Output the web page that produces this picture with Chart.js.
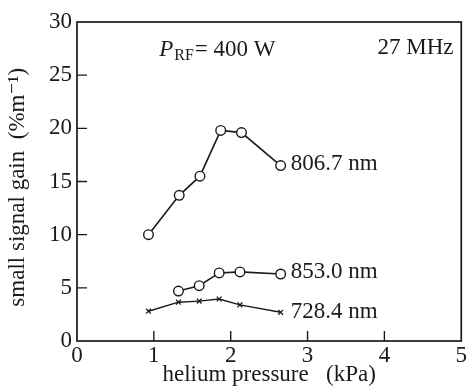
<!DOCTYPE html>
<html>
<head>
<meta charset="utf-8">
<script src="https://cdn.jsdelivr.net/npm/chart.js@4"></script>
<style>
  html, body { margin: 0; padding: 0; background: #fff; }
  #wrap { width: 468px; height: 389px; }
</style>
</head>
<body>
<div id="wrap"><canvas id="myChart" width="468" height="389"></canvas></div>
<script>
const ctx = document.querySelector("#myChart")

// values
const p8067 = [0.93, 1.33, 1.60, 1.87, 2.14, 2.65]
const g8067 = [10.0, 13.7, 15.5, 19.8, 19.6, 16.5]
const p8530 = [1.32, 1.59, 1.85, 2.12, 2.65]
const g8530 = [4.7, 5.2, 6.4, 6.5, 6.3]
const p7284 = [0.93, 1.32, 1.59, 1.85, 2.12, 2.65]
const g7284 = [2.8, 3.65, 3.75, 3.95, 3.4, 2.7]
const xTicks = [0, 1, 2, 3, 4, 5]
const yTicks = [0, 5, 10, 15, 20, 25, 30]
const seriesNames = ["806.7 nm", "853.0 nm", "728.4 nm"]

const serif = "'Liberation Serif', 'DejaVu Serif', serif"
const ink = '#1a1a1a'

const pts = (xs, ys) => xs.map((x, i) => ({x: x, y: ys[i]}))

const data = {
  datasets: [{
    label: seriesNames[0],
    data: pts(p8067, g8067),
    showLine: true,
    borderColor: ink,
    borderWidth: 1.6,
    pointStyle: 'circle',
    pointRadius: 4.8,
    pointBorderWidth: 1.4,
    pointBackgroundColor: '#fff',
    pointBorderColor: ink
  }, {
    label: seriesNames[1],
    data: pts(p8530, g8530),
    showLine: true,
    borderColor: ink,
    borderWidth: 1.6,
    pointStyle: 'circle',
    pointRadius: 4.8,
    pointBorderWidth: 1.4,
    pointBackgroundColor: '#fff',
    pointBorderColor: ink
  }, {
    label: seriesNames[2],
    data: pts(p7284, g7284),
    showLine: true,
    borderColor: ink,
    borderWidth: 1.4,
    pointStyle: 'crossRot',
    pointRadius: 3.4,
    pointBorderWidth: 1.3,
    pointBorderColor: ink
  }]
}

// box, inward ticks and text labels
const decor = {
  id: 'decor',
  afterDraw(chart) {
    const c = chart.ctx
    const a = chart.chartArea
    const xs = chart.scales.x, ys = chart.scales.y
    c.save()
    c.strokeStyle = ink
    c.lineWidth = 1.7
    c.strokeRect(a.left, a.top, a.right - a.left, a.bottom - a.top)
    c.lineWidth = 1.4
    c.beginPath()
    yTicks.slice(1, -1).forEach(v => {
      const y = ys.getPixelForValue(v)
      c.moveTo(a.left, y); c.lineTo(a.left + 10, y)
    })
    xTicks.slice(1, -1).forEach(v => {
      const x = xs.getPixelForValue(v)
      c.moveTo(x, a.bottom); c.lineTo(x, a.bottom - 10)
    })
    c.stroke()

    c.fillStyle = ink
    c.textBaseline = 'alphabetic'
    c.textAlign = 'left'
    // P_RF = 400 W
    let x = xs.getPixelForValue(1.07), y = ys.getPixelForValue(26.8)
    c.font = "italic 23px " + serif
    c.fillText("P", x, y)
    x += c.measureText("P").width + 1
    c.font = "16px " + serif
    c.fillText("RF", x, y + 4)
    x += c.measureText("RF").width + 1
    c.font = "23px " + serif
    c.fillText("= 400 W", x, y)
    c.textAlign = 'right'
    c.fillText("27 MHz", xs.getPixelForValue(4.9), y - 2)

    c.textAlign = 'left'
    c.font = "23px " + serif
    c.textBaseline = 'middle'
    const last = (xsArr, ysArr) => [xs.getPixelForValue(xsArr[xsArr.length - 1]) + 10, ys.getPixelForValue(ysArr[ysArr.length - 1])]
    let [lx, ly] = last(p8067, g8067)
    c.fillText(seriesNames[0], lx, ly - 2)
    ;[lx, ly] = last(p8530, g8530)
    c.fillText(seriesNames[1], lx, ly - 2)
    ;[lx, ly] = last(p7284, g7284)
    c.fillText(seriesNames[2], lx, ly)
    c.restore()
  }
}

const options = {
  responsive: false,
  animation: false,
  layout: { padding: { top: 22, right: 4, left: 0, bottom: 0 } },
  plugins: {
    legend: { display: false },
    tooltip: { enabled: false }
  },
  scales: {
    x: {
      type: 'linear',
      min: 0, max: 5,
      border: { display: false },
      grid: { drawOnChartArea: false, drawTicks: false },
      afterBuildTicks: s => { s.ticks = xTicks.map(v => ({value: v})) },
      afterFit: s => { s.height = 48 },
      ticks: { color: ink, padding: 1, font: { family: serif, size: 23 } },
      title: {
        display: true,
        text: "helium pressure   (kPa)",
        color: ink,
        padding: { top: -6, bottom: 0 },
        font: { family: serif, size: 23 }
      }
    },
    y: {
      type: 'linear',
      min: 0, max: 30,
      border: { display: false },
      grid: { drawOnChartArea: false, drawTicks: false },
      afterBuildTicks: s => { s.ticks = yTicks.map(v => ({value: v})) },
      afterFit: s => { s.width = 77 },
      ticks: { color: ink, padding: 5, font: { family: serif, size: 23 } },
      title: {
        display: true,
        text: "small signal gain  (%m⁻¹)  ",
        color: ink,
        padding: { top: 4, bottom: 0 },
        font: { family: serif, size: 23 }
      }
    }
  }
}

const config = {
  type: 'scatter',
  data: data,
  options: options,
  plugins: [decor]
}

const chart = new Chart(ctx, config);
</script>
</body>
</html>
